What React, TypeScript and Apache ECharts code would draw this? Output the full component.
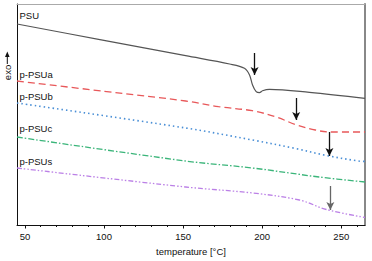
import React, { useEffect, useRef } from "react";
import * as echarts from "echarts";

// temperature [°C] / heat flow (arbitrary units, exo up)
const psu: [number, number][] = [
  [45, 201], [97.4, 185.4], [151.6, 169.3], [179.4, 161], [188.8, 156.7], [192, 150],
  [193.9, 140], [196.2, 133.3], [198.3, 132.3], [200.2, 134.3], [204.6, 135.7],
  [229.9, 132.7], [265, 126.7],
];
const psuA: [number, number][] = [
  [45, 144], [100, 133.7], [151.6, 124], [172.4, 118.3], [193.7, 114.3], [208.4, 108.3],
  [221, 100.5], [233.6, 95], [242.5, 93], [265, 93],
];
const psuB: [number, number][] = [
  [45, 122], [151.6, 97], [193.9, 85], [221, 76.5], [240.6, 69.5], [260.8, 64], [265, 63.6],
];
const psuC: [number, number][] = [
  [45, 88], [151.6, 64], [193.9, 57], [236, 48], [265, 43],
];
const psuS: [number, number][] = [
  [45, 57], [151.6, 38], [193.9, 32], [223.5, 25], [240.6, 15.5], [265, 7.5],
];
// arrows: [temperature, from, to]
const arrows: [number, number, number][] = [
  [195.2, 172, 150],
  [221.5, 127, 105],
  [242.5, 93, 69],
  [243.1, 39, 15],
];
const names = ["PSU", "p-PSUa", "p-PSUb", "p-PSUc", "p-PSUs"];
const xMajor = [50, 100, 150, 200, 250];
const xMinor = [60, 70, 80, 90, 110, 120, 130, 140, 160, 170, 180, 190, 210, 220, 230, 240, 260];

const FONT = "'Liberation Sans', Arial, Helvetica, sans-serif";

export default function App() {
  const ref = useRef<HTMLDivElement>(null);
  useEffect(() => {
    if (!ref.current) return;
    const chart = echarts.init(ref.current, undefined, { renderer: "svg" });
    const arrowLine = (a: [number, number, number], color: string) => ({
      silent: true,
      animation: false,
      symbol: ["none", "arrow"],
      symbolSize: [6, 8],
      lineStyle: { color, type: "solid", width: 1.3 },
      label: { show: false },
      data: [[{ coord: [a[0], a[1]] }, { coord: [a[0], a[2]] }]],
    });
    const datasets = [psu, psuA, psuB, psuC, psuS];
    const styles = [
      { color: "#555555", type: "solid" as any, width: 1.2 },
      { color: "#e8585a", type: [7, 4], width: 1.3 },
      { color: "#4a8fd6", type: [1.5, 3], width: 1.6 },
      { color: "#3bb57a", type: [6, 2, 1.5, 2], width: 1.3 },
      { color: "#bb80e6", type: [5, 2, 1.5, 2, 1.5, 2], width: 1.3 },
    ];
    const arrowMap: Record<number, { a: [number, number, number]; c: string }> = {
      0: { a: arrows[0], c: "#111" },
      1: { a: arrows[1], c: "#111" },
      2: { a: arrows[2], c: "#111" },
      4: { a: arrows[3], c: "#666" },
    };
    const series = datasets.map((d, i) => ({
      type: "line",
      name: names[i],
      data: d,
      smooth: 0.35,
      showSymbol: false,
      symbol: "none",
      lineStyle: styles[i],
      xAxisIndex: 0,
      yAxisIndex: 0,
      markLine: arrowMap[i] ? arrowLine(arrowMap[i].a, arrowMap[i].c) : undefined,
    }));
    const labelY = [16, 75, 97, 129, 162];
    const baseX = { type: "value", min: 45, max: 265, splitLine: { show: false } };
    chart.setOption({
      animation: false,
      grid: { left: 17, right: 7, top: 4, bottom: 36 },
      xAxis: [
        {
          ...baseX,
          name: "temperature [°C]",
          nameLocation: "middle",
          nameGap: 21,
          nameTextStyle: { fontFamily: FONT, fontSize: 9.5, color: "#111" },
          axisLine: { show: true, lineStyle: { color: "#111", width: 1 } },
          axisTick: { show: true, length: 3.5, lineStyle: { color: "#111" }, customValues: xMajor },
          axisLabel: {
            fontFamily: FONT,
            fontSize: 9.5,
            color: "#111",
            margin: 6,
            customValues: xMajor,
          },
        },
        {
          ...baseX,
          position: "bottom",
          axisLine: { show: false },
          axisTick: { show: true, length: 2, lineStyle: { color: "#111" }, customValues: xMinor },
          axisLabel: { show: false },
        },
        {
          ...baseX,
          position: "top",
          axisLine: { show: true, lineStyle: { color: "#aaaaaa", width: 1 } },
          axisTick: { show: false },
          axisLabel: { show: false },
        },
      ],
      yAxis: [
        {
          type: "value",
          min: 0,
          max: 221,
          axisLine: { show: true, lineStyle: { color: "#111", width: 1 } },
          axisTick: { show: false },
          axisLabel: { show: false },
          splitLine: { show: false },
        },
        {
          type: "value",
          position: "right",
          min: 0,
          max: 221,
          axisLine: { show: true, lineStyle: { color: "#888888", width: 2 } },
          axisTick: { show: false },
          axisLabel: { show: false },
          splitLine: { show: false },
        },
      ],
      series,
      graphic: [
        ...names.map((n, i) => ({
          type: "text",
          left: 19.5,
          top: labelY[i] - 6,
          silent: true,
          style: { text: n, fontFamily: FONT, fontSize: 9.5, fill: "#111" },
        })),
        {
          type: "text",
          x: 7.3,
          y: 72.5,
          rotation: Math.PI / 2,
          silent: true,
          style: {
            text: "exo",
            fontFamily: FONT,
            fontSize: 9.5,
            fill: "#111",
            align: "center",
            verticalAlign: "middle",
            textAlign: "center",
            textVerticalAlign: "middle",
          },
        },
        {
          type: "line",
          silent: true,
          shape: { x1: 7.3, y1: 64, x2: 7.3, y2: 56 },
          style: { stroke: "#111", lineWidth: 1 },
        },
        {
          type: "polygon",
          silent: true,
          shape: { points: [[7.3, 51.5], [5, 57], [9.6, 57]] },
          style: { fill: "#111" },
        },
      ],
    });
    return () => chart.dispose();
  }, []);
  return (
    <div
      ref={ref}
      style={{ position: "fixed", left: 0, top: 0, width: 372, height: 261, background: "#fff" }}
    />
  );
}
